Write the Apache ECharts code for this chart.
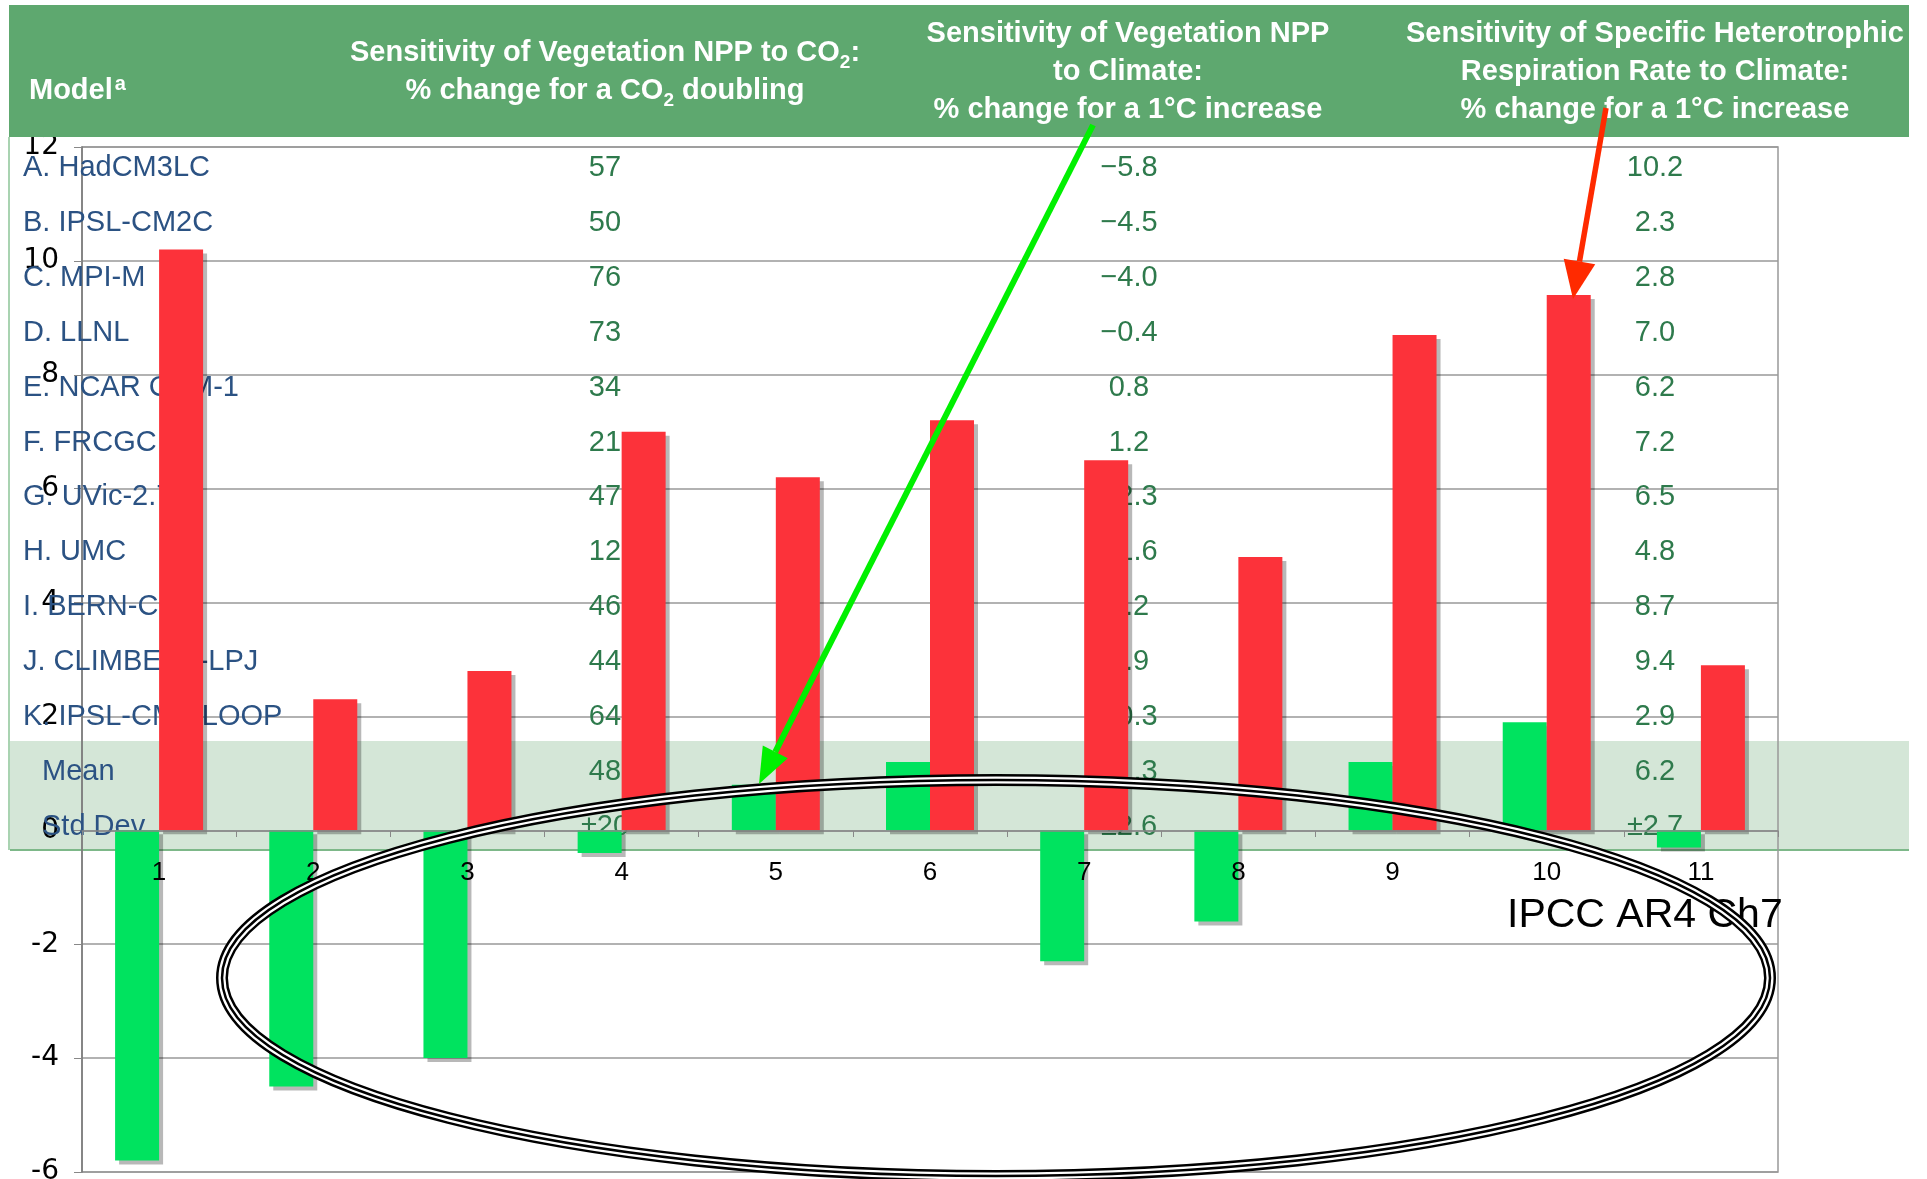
<!DOCTYPE html>
<html>
<head>
<meta charset="utf-8">
<script src="https://cdn.jsdelivr.net/npm/echarts@6/dist/echarts.min.js"></script>
<style>
  html, body { margin: 0; padding: 0; background: #fff; }
  #chart { width: 1927px; height: 1179px; }
</style>
</head>
<body>
<div id="chart"></div>
<script>
// table rows / bar categories
var models = ['A. HadCM3LC', 'B. IPSL-CM2C', 'C. MPI-M', 'D. LLNL', 'E. NCAR CSM-1', 'F. FRCGC',
  'G. UVic-2.7', 'H. UMC', 'I. BERN-CC', 'J. CLIMBER2-LPJ', 'K. IPSL-CM4-LOOP'];
var modelNums = ['1', '2', '3', '4', '5', '6', '7', '8', '9', '10', '11'];
// % change for a CO2 doubling
var nppCo2 = ['57', '50', '76', '73', '34', '21', '47', '12', '46', '44', '64'];
// NPP, % change for a 1C increase (green bars)
var nppClimate = [-5.8, -4.5, -4.0, -0.4, 0.8, 1.2, -2.3, -1.6, 1.2, 1.9, -0.3];
// heterotrophic respiration, % change for a 1C increase (red bars)
var respClimate = [10.2, 2.3, 2.8, 7.0, 6.2, 7.2, 6.5, 4.8, 8.7, 9.4, 2.9];
var meanRow = ['48', '\u22121.3', '6.2'];
var stdRow = ['\u00b120', '\u00b12.6', '\u00b12.7'];

var FONT = "'Liberation Sans', Arial, sans-serif";
var BLUE = '#2b5283';
var DKGREEN = '#2e7a4c';

function fmt(v) {
  var s = v.toFixed(1);
  return v < 0 ? '\u2212' + s.slice(1) : s;
}

function txt(x, y, s, size, color, align, z) {
  return {
    type: 'text', x: x, y: y, z: z || 1,
    style: { text: s, fill: color, font: size + 'px ' + FONT, align: align || 'left', verticalAlign: 'middle' }
  };
}

// arrow: shaft + head, tip at (x2,y2)
function arrow(x1, y1, x2, y2, color, w, headLen, headW) {
  var dx = x2 - x1, dy = y2 - y1;
  var len = Math.sqrt(dx * dx + dy * dy);
  var ux = dx / len, uy = dy / len;
  var bx = x2 - ux * headLen, by = y2 - uy * headLen;
  var nx = -uy, ny = ux;
  return [
    { type: 'line', z: 40, shape: { x1: x1, y1: y1, x2: bx, y2: by }, style: { stroke: color, lineWidth: w } },
    { type: 'polygon', z: 40, shape: { points: [[x2, y2], [bx + nx * headW, by + ny * headW], [bx - nx * headW, by - ny * headW]] },
      style: { fill: color } }
  ];
}

var graphics = [];
// light green band behind Mean / Std Dev rows
graphics.push({ type: 'rect', z: -5, shape: { x: 10, y: 741, width: 1899, height: 109 }, style: { fill: '#d4e6d7' } });
graphics.push({ type: 'line', z: -4, shape: { x1: 10, y1: 850, x2: 1909, y2: 850 }, style: { stroke: '#7db889', lineWidth: 2 } });
graphics.push({ type: 'line', z: -4, shape: { x1: 9, y1: 137, x2: 9, y2: 850 }, style: { stroke: '#8cc497', lineWidth: 1.5 } });

// header
graphics.push({ type: 'rect', z: 20, shape: { x: 9, y: 5, width: 1900, height: 132 }, style: { fill: '#5ea86f' } });
var hdr = { fill: '#fff', font: 'bold 29px ' + FONT, align: 'center', verticalAlign: 'middle', lineHeight: 38,
  rich: { s: { fill: '#fff', fontSize: 19, fontWeight: 'bold', fontFamily: FONT, verticalAlign: 'bottom' },
          p: { fill: '#fff', fontSize: 20, fontWeight: 'bold', fontFamily: FONT, verticalAlign: 'top', padding: [2, 0, 0, 2] } } };
function header(x, y, s, align) {
  return { type: 'text', x: x, y: y, z: 21, style: Object.assign({}, hdr, { text: s, align: align || 'center' }) };
}
graphics.push(header(29, 91, 'Model{p|a}', 'left'));
graphics.push(header(605, 72, 'Sensitivity of Vegetation NPP to CO{s|2}:\n% change for a CO{s|2} doubling'));
graphics.push(header(1128, 72, 'Sensitivity of Vegetation NPP\nto Climate:\n% change for a 1\u00b0C increase'));
graphics.push(header(1655, 72, 'Sensitivity of Specific Heterotrophic\nRespiration Rate to Climate:\n% change for a 1\u00b0C increase'));

// table body
var rowY0 = 168, rowStep = 54.9;
for (var i = 0; i < models.length; i++) {
  var y = rowY0 + i * rowStep;
  graphics.push(txt(23, y, models[i], 29, BLUE, 'left'));
  graphics.push(txt(605, y, nppCo2[i], 29, DKGREEN, 'center'));
  graphics.push(txt(1129, y, fmt(nppClimate[i]), 29, DKGREEN, 'center'));
  graphics.push(txt(1655, y, respClimate[i].toFixed(1), 29, DKGREEN, 'center'));
}
var yMean = rowY0 + 11 * rowStep, yStd = rowY0 + 12 * rowStep;
graphics.push(txt(42, yMean, 'Mean', 29, BLUE, 'left'));
graphics.push(txt(42, yStd, 'Std Dev', 29, BLUE, 'left'));
[605, 1129, 1655].forEach(function (x, k) {
  graphics.push(txt(x, yMean, meanRow[k], 29, DKGREEN, 'center'));
  graphics.push(txt(x, yStd, stdRow[k], 29, DKGREEN, 'center'));
});

graphics.push(txt(1507, 916, 'IPCC AR4 Ch7', 41, '#000', 'left', 25));

// hand-drawn ellipse
[[12, '#000'], [7, '#fff'], [2.5, '#000']].forEach(function (r) {
  graphics.push({ type: 'ellipse', z: 30, shape: { cx: 996, cy: 978, rx: 774, ry: 198 },
    style: { fill: null, stroke: r[1], lineWidth: r[0] } });
});

graphics = graphics.concat(arrow(1093, 125, 759, 784, '#00f000', 6, 36, 14));
graphics = graphics.concat(arrow(1606, 108, 1573, 299, '#ff2a00', 5.5, 38, 16));

var chart = echarts.init(document.getElementById('chart'));
var option = {
  backgroundColor: '#fff',
  animation: false,
  grid: { left: 82, top: 147, width: 1696, height: 1025, show: true, borderColor: '#999', borderWidth: 1.5,
    containLabel: false, outerBoundsMode: 'none' },
  xAxis: {
    type: 'category',
    data: modelNums,
    position: 'bottom',
    offset: -341,   // puts the category axis on the zero line
    z: 5,
    axisLine: { onZero: false, lineStyle: { color: '#888', width: 1.5 } },
    axisTick: { show: true, length: 6, lineStyle: { color: '#888' } },
    axisLabel: { margin: 29, fontSize: 26, color: '#000', fontFamily: FONT },
    splitLine: { show: false }
  },
  yAxis: {
    type: 'value', min: -6, max: 12, interval: 2,
    axisLine: { show: true, lineStyle: { color: '#777', width: 1.5 } },
    axisTick: { show: true, length: 8, lineStyle: { color: '#888' } },
    axisLabel: { margin: 23, fontSize: 28, color: '#000', fontFamily: "'DejaVu Sans', sans-serif" },
    splitLine: { lineStyle: { color: '#999', width: 1.5 } }
  },
  series: [
    {
      type: 'bar', data: nppClimate, barWidth: 44, barGap: '0%',
      itemStyle: { color: '#00e35f', shadowColor: 'rgba(0,0,0,0.28)', shadowOffsetX: 4, shadowOffsetY: 4, shadowBlur: 0 }
    },
    {
      type: 'bar', data: respClimate, barWidth: 44, barGap: '0%',
      itemStyle: { color: '#fc323a', shadowColor: 'rgba(0,0,0,0.28)', shadowOffsetX: 4, shadowOffsetY: 4, shadowBlur: 0 }
    }
  ],
  graphic: graphics
};
chart.setOption(option);
</script>
</body>
</html>
